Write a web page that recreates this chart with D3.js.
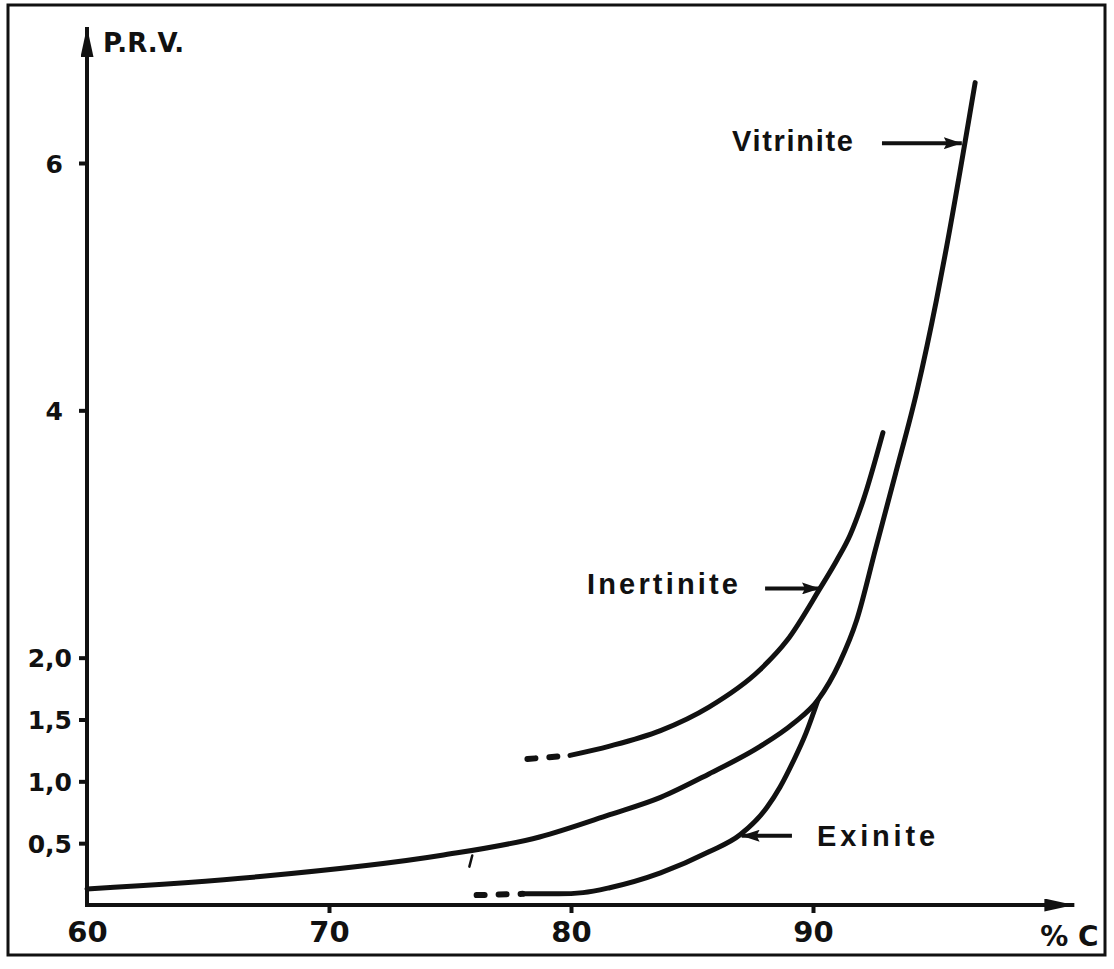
<!DOCTYPE html>
<html>
<head>
<meta charset="utf-8">
<script src="https://cdn.jsdelivr.net/npm/d3@7"></script>
<style>
  body { margin: 0; background: #fff; }
  svg { display: block; }
  text { font-family: 'Liberation Sans', Arial, sans-serif; font-weight: bold; fill: #111; }
  .num { font-family: 'DejaVu Sans', sans-serif; }
</style>
</head>
<body>
<svg id="chart" width="1114" height="969"></svg>
<script>
// Axis ticks
const xTicks = [60, 70, 80, 90];
const yTicks = [0.5, 1.0, 1.5, 2.0, 4, 6];
const yTickLabels = ['0,5', '1,0', '1,5', '2,0', '4', '6'];

// Vitrinite (% C vs P.R.V.)
const vitriniteC   = [60, 67.15, 74.6, 78.7, 81.6, 83.7, 85.7, 87.8, 89.2, 90.21, 91.1, 91.8, 92.6, 93.4, 94.3, 95.1, 95.5, 96.7];
const vitrinitePRV = [0.13, 0.23, 0.40, 0.55, 0.73, 0.87, 1.06, 1.28, 1.47, 1.66, 1.96, 2.30, 2.89, 3.48, 4.16, 4.89, 5.30, 6.65];

// Inertinite: dashed start, then solid
const inertDashC   = [78.2, 79.96];
const inertDashPRV = [1.18, 1.21];
const inertiniteC   = [79.96, 81.6, 83.7, 85.7, 87.8, 88.93, 90.29, 90.99, 91.53, 92.07, 92.89];
const inertinitePRV = [1.21, 1.285, 1.41, 1.60, 1.90, 2.14, 2.56, 2.79, 2.99, 3.27, 3.82];

// Exinite: dashed start, then solid, joining the vitrinite
const exinDashC   = [76.1, 78.0];
const exinDashPRV = [0.08, 0.09];
const exiniteC   = [78.0, 79.5, 80.5, 81.6, 83.7, 85.7, 87.0, 88.1, 88.64, 89.17, 89.71, 90.21];
const exinitePRV = [0.09, 0.09, 0.10, 0.14, 0.26, 0.43, 0.57, 0.79, 0.954, 1.156, 1.39, 1.66];

// small pen mark under the vitrinite curve
const strayC   = [75.92, 75.8];
const strayPRV = [0.40, 0.31];

// Labels with arrows (text edge, arrow tail, arrow tip, level)
const labelNames  = ['Vitrinite', 'Inertinite', 'Exinite'];
const labelTextC  = [91.65, 86.9, 90.17];
const labelAnchor = ['end', 'end', 'start'];
const labelWidth  = [121, 151, 118];
const labelPRV    = [6.18, 2.60, 0.56];
const arrowFromC  = [92.85, 88.02, 89.13];
const arrowToC    = [96.15, 90.29, 87.05];
const arrowPRV    = [6.16, 2.56, 0.56];

const svg = d3.select('#chart');
const x = d3.scaleLinear().domain([60, 100]).range([87, 1055]);
const y = d3.scaleLinear().domain([0, 6]).range([905, 163]);

// arrow heads
const defs = svg.append('defs');
defs.append('marker')
  .attr('id', 'axisHead')
  .attr('markerUnits', 'userSpaceOnUse')
  .attr('viewBox', '0 0 30 13')
  .attr('refX', 30).attr('refY', 6.5)
  .attr('markerWidth', 30).attr('markerHeight', 13)
  .attr('orient', 'auto')
  .append('path').attr('d', 'M0,0 L30,6.5 L0,13 Z').attr('fill', '#111');
defs.append('marker')
  .attr('id', 'labelHead')
  .attr('markerUnits', 'userSpaceOnUse')
  .attr('viewBox', '0 0 18 12')
  .attr('refX', 18).attr('refY', 6)
  .attr('markerWidth', 18).attr('markerHeight', 12)
  .attr('orient', 'auto')
  .append('path').attr('d', 'M0,0 L18,6 L0,12 L3,6 Z').attr('fill', '#111');

// frame
svg.append('rect')
  .attr('x', 8).attr('y', 5)
  .attr('width', 1097).attr('height', 950)
  .attr('fill', 'none')
  .attr('stroke', '#111')
  .attr('stroke-width', 3);

// Y axis
const yAxis = svg.append('g')
  .attr('transform', `translate(${x(60)},0)`)
  .call(d3.axisLeft(y).tickValues(yTicks).tickFormat((d, i) => yTickLabels[i]).tickSize(8).tickPadding(6));
yAxis.select('.domain').remove();
yAxis.selectAll('.tick line').attr('stroke', '#111').attr('stroke-width', 4);
yAxis.selectAll('.tick text')
  .attr('class', 'num')
  .attr('font-size', 25)
  .attr('fill', '#111')
  .attr('dy', '0.36em')
  .attr('x', d => d > 2 ? -24 : -15);

svg.append('line')
  .attr('x1', x(60)).attr('y1', y(0) + 2)
  .attr('x2', x(60)).attr('y2', y(7.1))
  .attr('stroke', '#111').attr('stroke-width', 4)
  .attr('marker-end', 'url(#axisHead)');

svg.append('text')
  .attr('class', 'num')
  .attr('x', x(60) + 16).attr('y', y(6.97))
  .attr('dy', '0.36em')
  .attr('font-size', 26)
  .text('P.R.V.');

// X axis
const xAxis = svg.append('g')
  .attr('transform', `translate(0,${y(0)})`)
  .call(d3.axisBottom(x).tickValues(xTicks).tickFormat(d3.format('d')).tickSize(8).tickPadding(8));
xAxis.select('.domain').remove();
xAxis.selectAll('.tick line').attr('stroke', '#111').attr('stroke-width', 4)
  .filter(d => d === 60).remove();
xAxis.selectAll('.tick text').attr('class', 'num').attr('font-size', 29).attr('fill', '#111');

svg.append('line')
  .attr('x1', x(60) - 2).attr('y1', y(0))
  .attr('x2', x(100.8)).attr('y2', y(0))
  .attr('stroke', '#111').attr('stroke-width', 4)
  .attr('marker-end', 'url(#axisHead)');

svg.append('text')
  .attr('class', 'num')
  .attr('x', x(101.8)).attr('y', y(0) + 41)
  .attr('text-anchor', 'end')
  .attr('font-size', 28)
  .text('% C');

// curves
const line = d3.line()
  .x(d => x(d[0]))
  .y(d => y(d[1]))
  .curve(d3.curveMonotoneX);

function drawCurve(cs, vs, width, dash) {
  svg.append('path')
    .datum(d3.zip(cs, vs))
    .attr('d', line)
    .attr('fill', 'none')
    .attr('stroke', '#111')
    .attr('stroke-width', width)
    .attr('stroke-linecap', 'round')
    .attr('stroke-dasharray', dash || null);
}

drawCurve(vitriniteC, vitrinitePRV, 5);
drawCurve(inertiniteC, inertinitePRV, 5);
drawCurve(inertDashC, inertDashPRV, 6, '8 14');
drawCurve(exiniteC, exinitePRV, 5);
drawCurve(exinDashC, exinDashPRV, 6, '8 14');
drawCurve(strayC, strayPRV, 2.5);

// labels + arrows
labelNames.forEach((name, i) => {
  svg.append('text')
    .attr('x', x(labelTextC[i]))
    .attr('y', y(labelPRV[i]))
    .attr('dy', '0.36em')
    .attr('text-anchor', labelAnchor[i])
    .attr('font-size', 29)
    .attr('textLength', labelWidth[i])
    .attr('lengthAdjust', 'spacing')
    .text(name);
  svg.append('line')
    .attr('x1', x(arrowFromC[i])).attr('y1', y(arrowPRV[i]))
    .attr('x2', x(arrowToC[i])).attr('y2', y(arrowPRV[i]))
    .attr('stroke', '#111').attr('stroke-width', 4)
    .attr('marker-end', 'url(#labelHead)');
});
</script>
</body>
</html>
